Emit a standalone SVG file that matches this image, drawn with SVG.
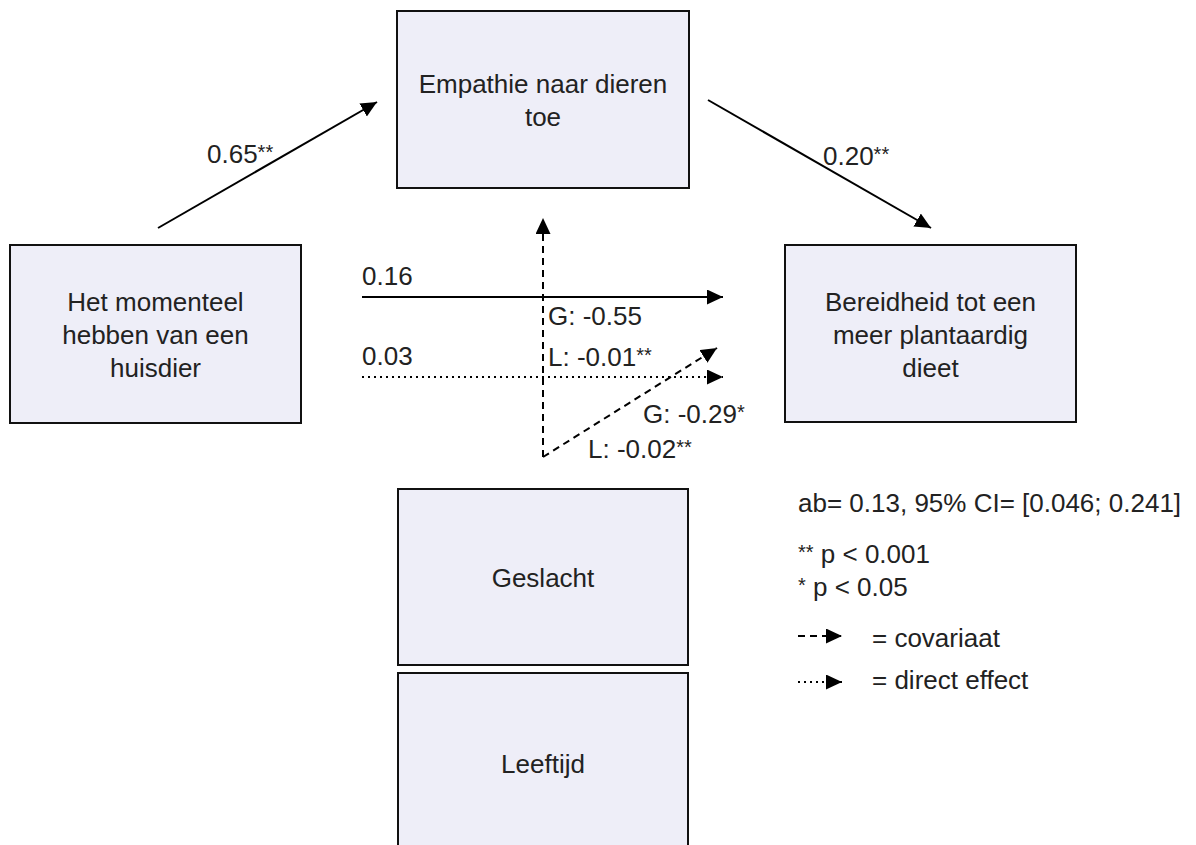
<svg xmlns="http://www.w3.org/2000/svg" width="1196" height="845" viewBox="0 0 1196 845">
  <style>
    .box { fill: #EEEEF8; stroke: #111; stroke-width: 2; }
    text { font-family: "Liberation Sans", Arial, sans-serif; font-size: 26px; fill: #222; }
    .c { text-anchor: middle; }
    .s { font-size: 20px; }
    .ln { stroke: #000; stroke-width: 2; fill: none; }
    .dash { stroke-dasharray: 7 5; }
    .dot { stroke-dasharray: 2 4; }
  </style>
  <defs>
    <marker id="arr" markerUnits="userSpaceOnUse" markerWidth="17" markerHeight="16" refX="16" refY="7.5" orient="auto">
      <path d="M0,0 L16,7.5 L0,15 z" fill="#000"/>
    </marker>
  </defs>
  <rect width="1196" height="845" fill="#fff"/>

  <g id="node-huisdier">
    <rect class="box" x="10" y="245" width="291" height="178"/>
    <text class="c" x="155.5" y="311">Het momenteel</text>
    <text class="c" x="155.5" y="344">hebben van een</text>
    <text class="c" x="155.5" y="377">huisdier</text>
  </g>
  <g id="node-empathie">
    <rect class="box" x="397" y="11" width="292" height="177"/>
    <text class="c" x="543" y="93">Empathie naar dieren</text>
    <text class="c" x="543" y="126">toe</text>
  </g>
  <g id="node-bereidheid">
    <rect class="box" x="785" y="245" width="291" height="177"/>
    <text class="c" x="930.5" y="311">Bereidheid tot een</text>
    <text class="c" x="930.5" y="344">meer plantaardig</text>
    <text class="c" x="930.5" y="377">dieet</text>
  </g>
  <g id="node-geslacht">
    <rect class="box" x="398" y="489" width="290" height="176"/>
    <text class="c" x="543" y="587">Geslacht</text>
  </g>
  <g id="node-leeftijd">
    <rect class="box" x="398" y="673" width="290" height="190"/>
    <text class="c" x="543" y="773">Leeftijd</text>
  </g>

  <g id="connectors">
    <line class="ln" x1="158" y1="228" x2="377" y2="102" marker-end="url(#arr)"/>
    <line class="ln" x1="708" y1="100" x2="931" y2="228" marker-end="url(#arr)"/>
    <line class="ln" x1="362" y1="297" x2="723" y2="297" marker-end="url(#arr)"/>
    <line class="ln dot" x1="362" y1="377" x2="723" y2="377" marker-end="url(#arr)"/>
    <line class="ln dash" x1="543" y1="457" x2="543" y2="218" marker-end="url(#arr)"/>
    <line class="ln dash" x1="543" y1="457" x2="717" y2="348" marker-end="url(#arr)"/>
  </g>

  <g id="labels">
    <text x="207" y="163">0.65<tspan class="s" dy="-4">**</tspan></text>
    <text x="823" y="165">0.20<tspan class="s" dy="-4">**</tspan></text>
    <text x="362" y="285">0.16</text>
    <text x="362" y="365">0.03</text>
    <text x="548" y="325">G: -0.55</text>
    <text x="548" y="366">L: -0.01<tspan class="s" dy="-4">**</tspan></text>
    <text x="643" y="423">G: -0.29<tspan class="s" dy="-4">*</tspan></text>
    <text x="588" y="458">L: -0.02<tspan class="s" dy="-4">**</tspan></text>
  </g>

  <g id="legend">
    <text x="798" y="512">ab= 0.13, 95% CI= [0.046; 0.241]</text>
    <text x="798" y="563"><tspan class="s" dy="-4">**</tspan><tspan dy="4"> p &lt; 0.001</tspan></text>
    <text x="798" y="596"><tspan class="s" dy="-4">*</tspan><tspan dy="4"> p &lt; 0.05</tspan></text>
    <line class="ln dash" x1="798" y1="636" x2="842" y2="636" marker-end="url(#arr)"/>
    <text x="872" y="647">= covariaat</text>
    <line class="ln dot" x1="798" y1="682" x2="842" y2="682" marker-end="url(#arr)"/>
    <text x="872" y="689">= direct effect</text>
  </g>
</svg>
